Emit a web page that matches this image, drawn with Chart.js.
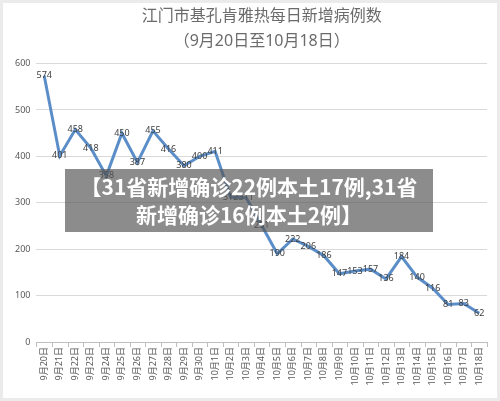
<!DOCTYPE html>
<html>
<head>
<meta charset="utf-8">
<script src="https://cdn.jsdelivr.net/npm/chart.js"></script>
<style>
    body { margin: 0; background: #fff; }
    #wrap { position: relative; width: 500px; height: 401px; box-sizing: border-box; border: 3px solid #ebebeb; background: #fff; }
    #wrap canvas { display: block; }
    #banner {
        position: absolute; left: 62px; top: 166px; width: 368px; height: 63px;
        background: rgba(85, 85, 85, 0.68); color: #fff;
        font-family: 'Noto Sans CJK SC', sans-serif; font-weight: bold; font-size: 21px;
        line-height: 28px; text-align: center; padding-top: 3px; box-sizing: border-box;
    }
</style>
</head>
<body>
<div id="wrap">
    <canvas id="lineChart" width="494" height="395"></canvas>
    <div id="banner">【31省新增确诊22例本土17例,31省<br>新增确诊16例本土2例】</div>
</div>
<script>
var days = ['9月20日', '9月21日', '9月22日', '9月23日', '9月24日', '9月25日', '9月26日', '9月27日',
    '9月28日', '9月29日', '9月30日', '10月1日', '10月2日', '10月3日', '10月4日', '10月5日',
    '10月6日', '10月7日', '10月8日', '10月9日', '10月10日', '10月11日', '10月12日', '10月13日',
    '10月14日', '10月15日', '10月16日', '10月17日', '10月18日'];
var cases = [574, 401, 458, 418, 358, 450, 387, 455, 416, 380, 400, 411, 312, 311, 251,
    190, 222, 206, 186, 147, 153, 157, 136, 184, 140, 116, 81, 83, 62];
var yTicks = [0, 100, 200, 300, 400, 500, 600];

var fontFam = "'Noto Sans', 'Noto Sans CJK SC', sans-serif";

// value labels centered on the points, x labels rotated -90 with tick marks
var labelPlugin = {
    id: 'labels',
    afterDatasetsDraw: function(chart) {
        var ctx = chart.ctx;
        var meta = chart.getDatasetMeta(0);
        ctx.save();
        ctx.font = '9px ' + fontFam;
        ctx.fillStyle = '#404040';
        ctx.textAlign = 'center';
        ctx.textBaseline = 'middle';
        meta.data.forEach(function(pt, i) {
            ctx.fillText(cases[i], pt.x, pt.y);
        });
        ctx.restore();
    },
    afterDraw: function(chart) {
        var ctx = chart.ctx;
        var xs = chart.scales.x;
        var axisY = chart.chartArea.bottom;
        var step = xs.getPixelForValue(1) - xs.getPixelForValue(0);
        ctx.save();
        ctx.strokeStyle = '#bfbfbf';
        ctx.lineWidth = 1;
        ctx.beginPath();
        for (var k = 0; k <= days.length; k++) {
            var bx = Math.round(xs.getPixelForValue(0) - step / 2 + k * step) + 0.5;
            ctx.moveTo(bx, axisY);
            ctx.lineTo(bx, axisY + 5);
        }
        ctx.stroke();
        ctx.font = '9px ' + fontFam;
        ctx.fillStyle = '#595959';
        ctx.textAlign = 'right';
        ctx.textBaseline = 'middle';
        days.forEach(function(d, i) {
            ctx.save();
            ctx.translate(xs.getPixelForValue(i), axisY + 5);
            ctx.rotate(-Math.PI / 2);
            ctx.fillText(d, 0, 0);
            ctx.restore();
        });
        ctx.restore();
    }
};

new Chart(document.getElementById('lineChart').getContext('2d'), {
    type: 'line',
    data: {
        labels: days,
        datasets: [{
            data: cases,
            borderColor: '#5b8ec8',
            borderWidth: 3,
            pointRadius: 0,
            tension: 0,
            fill: false
        }]
    },
    options: {
        responsive: false,
        animation: false,
        layout: { padding: { left: 6, right: 10, bottom: 48, top: 0 } },
        plugins: {
            legend: { display: false },
            tooltip: { enabled: false },
            title: {
                display: true,
                fullSize: false,
                text: ['江门市基孔肯雅热每日新增病例数', '（9月20日至10月18日）'],
                color: '#6b6b6b',
                font: { family: fontFam, size: 16, weight: 'normal', lineHeight: 1.55 },
                padding: { top: 1, bottom: 10 }
            }
        },
        scales: {
            x: {
                offset: true,
                grid: { display: false },
                border: { display: true, color: '#bfbfbf', width: 1 },
                ticks: { display: false }
            },
            y: {
                min: 0,
                max: 600,
                afterBuildTicks: function(axis) {
                    axis.ticks = yTicks.map(function(v) { return { value: v }; });
                },
                grid: { color: '#d9d9d9', drawTicks: false },
                border: { display: false },
                ticks: { color: '#595959', padding: 6, font: { family: fontFam, size: 9 } }
            }
        }
    },
    plugins: [labelPlugin]
});
</script>
</body>
</html>
